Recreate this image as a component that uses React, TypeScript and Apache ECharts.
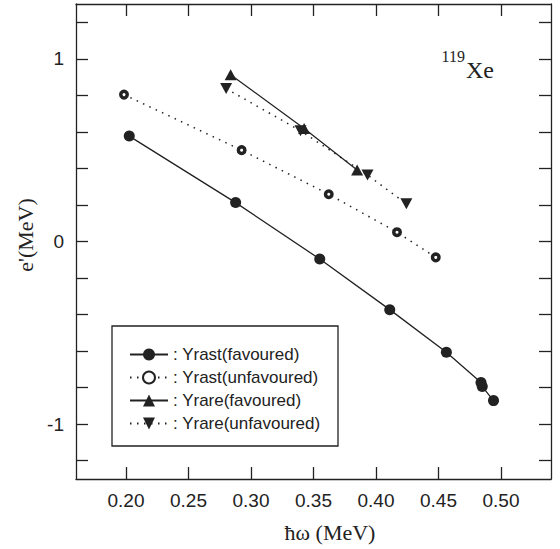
import React, { useEffect, useRef } from "react";
import * as echarts from "echarts";

const rastFavX = [0.2026, 0.2877, 0.355, 0.411, 0.4563, 0.484, 0.485, 0.494];
const rastFavY = [0.577, 0.213, -0.096, -0.373, -0.606, -0.772, -0.794, -0.871];
const rastUnfX = [0.1984, 0.2925, 0.3622, 0.4168, 0.4478];
const rastUnfY = [0.804, 0.5, 0.2585, 0.051, -0.087];
const rareFavX = [0.2837, 0.3425, 0.3849];
const rareFavY = [0.913, 0.619, 0.391];
const rareUnfX = [0.2801, 0.3396, 0.3932, 0.4243];
const rareUnfY = [0.837, 0.606, 0.364, 0.206];

const xTicks = [0.2, 0.25, 0.3, 0.35, 0.4, 0.45, 0.5];
const yTicks = [-1.2, -1, -0.8, -0.6, -0.4, -0.2, 0, 0.2, 0.4, 0.6, 0.8, 1, 1.2];
const yLabels = [-1, 0, 1];

const names = [
  "Yrast(favoured)",
  "Yrast(unfavoured)",
  "Yrare(favoured)",
  "Yrare(unfavoured)",
];

const zip = (xs: number[], ys: number[]) => xs.map((x, i) => [x, ys[i]]);

const INK = "#222";

export default function App() {
  const ref = useRef<HTMLDivElement>(null);
  useEffect(() => {
    if (!ref.current) return;
    const chart = echarts.init(ref.current, undefined, { renderer: "svg" });
    const axisLine = { show: true, onZero: false, lineStyle: { color: INK, width: 1.3 } };
    const tick = (vals: number[]) => ({
      show: true,
      inside: true,
      length: 12,
      lineStyle: { color: INK, width: 1.3 },
      customValues: vals,
    });
    const solid = { color: INK, width: 1.3, type: "solid" as const };
    const dotted = { color: INK, width: 1.5, type: [1.5, 5.5] as any };
    chart.setOption({
      animation: false,
      backgroundColor: "#fff",
      grid: { left: 76, top: 4, right: 9, bottom: 70, containLabel: false },
      xAxis: [
        {
          type: "value",
          min: 0.16,
          max: 0.54,
          position: "bottom",
          axisLine,
          axisTick: tick(xTicks),
          splitLine: { show: false },
          axisLabel: {
            customValues: xTicks,
            formatter: (v: number) => v.toFixed(2),
            color: INK,
            fontSize: 19,
            fontFamily: "Liberation Sans",
            margin: 12,
          },
        },
        {
          type: "value",
          min: 0.16,
          max: 0.54,
          position: "top",
          axisLine,
          axisTick: tick(xTicks),
          splitLine: { show: false },
          axisLabel: { show: false },
        },
      ],
      yAxis: [
        {
          type: "value",
          min: -1.3,
          max: 1.3,
          position: "left",
          axisLine,
          axisTick: tick(yTicks),
          splitLine: { show: false },
          axisLabel: {
            customValues: yLabels,
            formatter: (v: number) => String(Math.round(v)),
            color: INK,
            fontSize: 19,
            fontFamily: "Liberation Sans",
            margin: 12,
          },
        },
        {
          type: "value",
          min: -1.3,
          max: 1.3,
          position: "right",
          axisLine,
          axisTick: tick(yTicks),
          splitLine: { show: false },
          axisLabel: { show: false },
        },
      ],
      legend: {
        orient: "vertical",
        left: 129,
        top: 346,
        itemWidth: 38,
        itemHeight: 15,
        itemGap: 6,
        padding: 0,
        formatter: ": {name}",
        textStyle: {
          color: INK,
          fontSize: 17,
          lineHeight: 16,
          fontFamily: "Liberation Sans",
        },
        data: names,
      },
      series: [
        {
          name: names[0],
          type: "line",
          data: zip(rastFavX, rastFavY),
          symbol: "circle",
          symbolSize: 11,
          itemStyle: { color: INK },
          lineStyle: solid,
        },
        {
          name: names[1],
          type: "line",
          data: zip(rastUnfX, rastUnfY),
          symbol: "circle",
          symbolSize: 6.5,
          itemStyle: { color: "#fff", borderColor: INK, borderWidth: 3.5 },
          lineStyle: dotted,
        },
        {
          name: names[2],
          type: "line",
          data: zip(rareFavX, rareFavY),
          symbol: "triangle",
          symbolSize: [12, 11],
          itemStyle: { color: INK },
          lineStyle: solid,
        },
        {
          name: names[3],
          type: "line",
          data: zip(rareUnfX, rareUnfY),
          symbol: "triangle",
          symbolRotate: 180,
          symbolSize: [12, 11],
          itemStyle: { color: INK },
          lineStyle: dotted,
        },
      ],
      graphic: [
        {
          type: "rect",
          shape: { x: 112, y: 326, width: 226, height: 120 },
          style: { fill: "none", stroke: INK, lineWidth: 1.3 },
          z: 0,
        },
        {
          type: "text",
          x: 25,
          y: 235,
          rotation: Math.PI / 2,
          style: {
            text: "e'(MeV)",
            font: "22px 'Liberation Serif'",
            fill: INK,
            align: "center",
            verticalAlign: "middle",
          },
        },
        {
          type: "text",
          x: 330,
          y: 532,
          style: {
            text: "ħω (MeV)",
            font: "22px 'Liberation Serif'",
            fill: INK,
            align: "center",
            verticalAlign: "middle",
          },
        },
        {
          type: "text",
          x: 465,
          y: 56,
          style: {
            text: "119",
            font: "16px 'Liberation Serif'",
            fill: INK,
            align: "right",
            verticalAlign: "middle",
          },
        },
        {
          type: "text",
          x: 466,
          y: 70,
          style: {
            text: "Xe",
            font: "24px 'Liberation Serif'",
            fill: INK,
            align: "left",
            verticalAlign: "middle",
          },
        },
      ],
    });
    return () => chart.dispose();
  }, []);
  return (
    <div
      ref={ref}
      style={{ position: "fixed", left: 0, top: 0, width: 560, height: 549 }}
    />
  );
}
